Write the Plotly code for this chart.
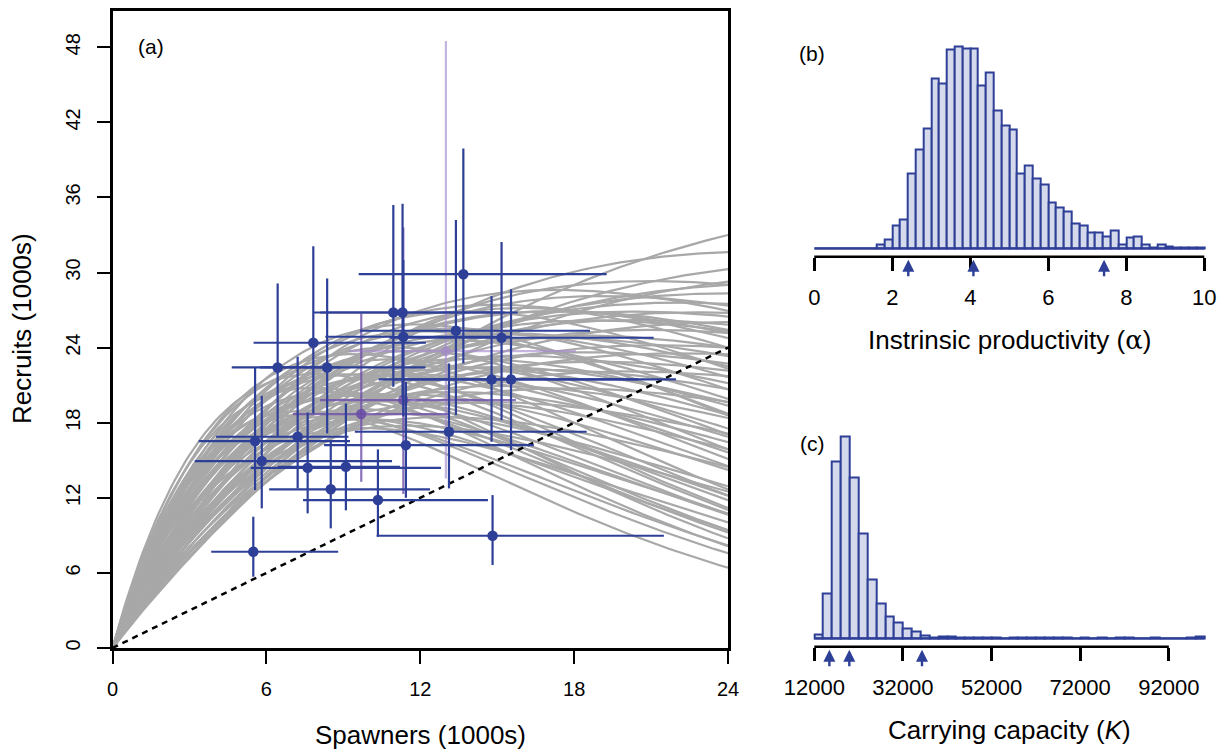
import numpy as np
import plotly.graph_objects as go

W, H = 1225, 753
FONT = "Liberation Sans, Arial, Helvetica, sans-serif"
BLUE = "#2E3F97"
FILL = "#D4D9EC"
GRAY = "#A8A8A8"

# ---- (a) stock-recruit observations (thousands of fish) ----
spawners     = [6.44, 8.37, 5.56, 7.22, 5.82, 7.61, 9.10, 8.51, 10.35, 5.49, 11.44, 13.12,
                7.83, 10.95, 11.31, 11.34, 13.68, 13.39, 15.17, 14.78, 15.54, 14.82]
spawners_lo  = [4.65, 5.75, 3.36, 4.04, 3.21, 5.39, 6.45, 6.11, 7.43, 3.85, 8.25, 9.45,
                5.50, 7.83, 8.10, 8.30, 9.60, 9.65, 10.80, 10.38, 11.00, 10.30]
spawners_hi  = [8.90, 12.20, 9.26, 9.20, 10.90, 12.81, 11.21, 12.38, 14.64, 8.80, 16.43, 18.49,
                12.22, 15.30, 15.80, 15.50, 19.27, 18.62, 21.10, 20.50, 21.97, 21.50]
recruits     = [22.42, 22.42, 16.53, 16.88, 14.94, 14.40, 14.48, 12.68, 11.82, 7.69, 16.21, 17.28,
                24.39, 26.81, 26.81, 24.87, 29.87, 25.35, 24.79, 21.46, 21.46, 8.97]
recruits_lo  = [16.88, 17.15, 12.62, 12.75, 11.16, 10.76, 11.00, 9.56, 8.89, 5.70, 12.00, 12.75,
                18.74, 20.87, 20.00, 18.50, 22.74, 18.61, 18.21, 16.48, 15.81, 6.63]
recruits_hi  = [29.13, 29.53, 22.42, 23.27, 20.15, 18.82, 19.54, 16.61, 15.87, 10.49, 21.27, 22.74,
                32.10, 35.40, 35.50, 31.00, 39.91, 34.19, 32.45, 28.12, 28.67, 12.22]

# years with partially observed recruitment
part_spawners    = [9.70, 11.34]
part_spawners_lo = [7.04, 8.09]
part_spawners_hi = [13.16, 15.73]
part_recruits    = [18.69, 19.81]
part_recruits_lo = [13.28, 12.30]
part_recruits_hi = [26.73, 33.60]

weak_spawners    = [13.00]
weak_spawners_lo = [9.23]
weak_spawners_hi = [18.07]
weak_recruits    = [23.72]
weak_recruits_lo = [13.55]
weak_recruits_hi = [48.50]

# posterior draws of Ricker parameters used for the grey curves
curve_alpha = [2.6, 2.8, 3.0, 3.2, 3.4, 3.6, 3.3, 3.8, 4.2, 4.6, 5.0, 3.5, 4.0, 4.5, 5.5, 6.0,
               3.8, 4.2, 4.8, 5.2, 6.5, 7.0, 6.0, 5.5, 5.0, 4.5, 7.5, 6.8, 5.8, 3.6, 3.1, 2.9,
               4.0, 4.4, 5.2, 3.2, 3.9, 6.2, 4.8, 5.6, 3.4, 2.7, 3.8, 4.6, 5.4, 6.6, 7.2, 6.4,
               4.9, 4.2, 3.7, 4.3, 3.5, 4.1, 3.3, 5.0, 4.7, 3.9, 5.3, 4.0, 3.6, 5.9, 5.1, 3.0,
               2.9, 4.5, 3.2, 6.0, 4.4, 5.7, 6.3, 5.4, 6.9]
curve_K = [36000, 31000, 29000, 28000, 27000, 26000, 25000, 25000, 25000, 24500, 24000, 23000,
           22000, 21000, 20000, 21000, 20000, 19000, 18000, 17000, 16000, 14300, 15000, 15500,
           16000, 17000, 16000, 18000, 19000, 21500, 24000, 26000, 26500, 23000, 22000, 20500,
           17500, 17500, 20000, 17000, 31000, 30000, 28000, 19500, 18500, 17000, 15500, 14800,
           15500, 16500, 24000, 24800, 25500, 21000, 22500, 21500, 22500, 23500, 23000, 18500,
           19000, 16500, 19000, 22000, 23500, 26000, 26500, 19500, 20500, 21000, 15800, 16200,
           17200]

S_grid = np.linspace(0, 24, 161)

# ---- (b) intrinsic productivity histogram ----
alpha_edges = np.round(np.arange(0, 10.0001, 0.2), 2)
alpha_counts = [0, 0, 0, 0, 0, 0, 0, 0,
                10, 25, 68, 85, 223, 295, 358, 509, 495, 597, 605, 600, 600, 487, 527, 413,
                367, 355, 225, 248, 210, 190, 138, 123, 110, 75, 68, 48, 48, 35, 53, 12,
                32, 35, 12, 3, 10, 5, 3, 2, 2, 3]
alpha_quantiles = [2.41, 4.08, 7.43]
alpha_ticks = [0, 2, 4, 6, 8, 10]

# ---- (c) carrying capacity histogram ----
K_edges = np.arange(12000, 100001, 2000)
K_counts = [10, 135, 530, 605, 483, 313, 175, 105, 65, 47, 30, 20, 8, 3, 4, 5, 3, 2, 2, 1,
            1, 0, 1, 1, 2, 1, 1, 2, 1, 0, 1, 0, 1, 0, 2, 1, 0, 0, 1, 0, 0, 0, 1, 5]
K_quantiles = [15400, 19900, 36300]
K_ticks = [12000, 32000, 52000, 72000, 92000]


def px_x(p):
    return p / W


def px_y(p):
    return 1 - p / H


fig = go.Figure()

# grey posterior Ricker curves
for a, k in zip(curve_alpha, curve_K):
    kk = k / 1000.0
    rec = a * S_grid * np.exp(-np.log(a) * S_grid / kk)
    fig.add_trace(go.Scatter(x=S_grid, y=rec, mode="lines", xaxis="x", yaxis="y",
                             line=dict(color=GRAY, width=2.2), hoverinfo="skip",
                             showlegend=False))

# replacement line
fig.add_trace(go.Scatter(x=[0, 24], y=[0, 24], mode="lines", xaxis="x", yaxis="y",
                         line=dict(color="black", width=2.5, dash="6px,5px"),
                         showlegend=False, hoverinfo="skip"))


def obs_trace(s, s_lo, s_hi, r, r_lo, r_hi, color, bar_color):
    s, s_lo, s_hi = np.array(s), np.array(s_lo), np.array(s_hi)
    r, r_lo, r_hi = np.array(r), np.array(r_lo), np.array(r_hi)
    return go.Scatter(
        x=s, y=r, mode="markers", xaxis="x", yaxis="y", showlegend=False,
        marker=dict(color=color, size=10.5, line=dict(width=0)),
        error_x=dict(type="data", symmetric=False, array=s_hi - s, arrayminus=s - s_lo,
                     width=0, thickness=2.2, color=bar_color),
        error_y=dict(type="data", symmetric=False, array=r_hi - r, arrayminus=r - r_lo,
                     width=0, thickness=2.2, color=bar_color),
    )


fig.add_trace(obs_trace(weak_spawners, weak_spawners_lo, weak_spawners_hi,
                        weak_recruits, weak_recruits_lo, weak_recruits_hi,
                        "rgba(160,135,200,0.6)", "rgba(165,140,205,0.65)"))
fig.add_trace(obs_trace(part_spawners, part_spawners_lo, part_spawners_hi,
                        part_recruits, part_recruits_lo, part_recruits_hi,
                        "rgba(105,75,165,0.85)", "rgba(110,80,170,0.8)"))
fig.add_trace(obs_trace(spawners, spawners_lo, spawners_hi,
                        recruits, recruits_lo, recruits_hi, BLUE, BLUE))


def hist_traces(edges, counts, xa, ya):
    edges = np.asarray(edges, dtype=float)
    centers = (edges[:-1] + edges[1:]) / 2
    widths = np.diff(edges)
    bars = go.Bar(x=centers, y=counts, width=widths, xaxis=xa, yaxis=ya,
                  marker=dict(color=FILL, line=dict(color=BLUE, width=2)),
                  showlegend=False, hoverinfo="skip")
    base = go.Scatter(x=[edges[0], edges[-1]], y=[0, 0], mode="lines", xaxis=xa, yaxis=ya,
                      line=dict(color=BLUE, width=2.2), showlegend=False, hoverinfo="skip")
    return [base, bars]


for t in hist_traces(alpha_edges, alpha_counts, "x2", "y2"):
    fig.add_trace(t)
for t in hist_traces(K_edges, K_counts, "x3", "y3"):
    fig.add_trace(t)

tick_font = dict(family=FONT, size=20, color="black")
side_tick_font = dict(family=FONT, size=22, color="black")

hist_yrange = [-25.2, 629.2]

common = dict(automargin=False, showgrid=False, zeroline=False, fixedrange=True)

fig.update_layout(
    width=W, height=H, margin=dict(l=0, r=0, t=0, b=0),
    paper_bgcolor="white", plot_bgcolor="white", bargap=0,
    xaxis=dict(domain=[px_x(112.5), px_x(728)], range=[0, 24], tickvals=[0, 6, 12, 18, 24],
               showline=True, mirror=True, linecolor="black", linewidth=2.5,
               ticks="outside", ticklen=13, tickwidth=2.2, tickcolor="black",
               tickfont=tick_font, ticklabelstandoff=8, **common),
    yaxis=dict(domain=[px_y(648), px_y(11)], range=[0, 50.9],
               tickvals=[0, 6, 12, 18, 24, 30, 36, 42, 48], tickangle=-90,
               showline=True, mirror=True, linecolor="black", linewidth=2.5,
               ticks="outside", ticklen=13, tickwidth=2.2, tickcolor="black",
               tickfont=tick_font, ticklabelstandoff=9, **common),
    xaxis2=dict(domain=[px_x(798.7), px_x(1219.9)], range=[-0.4, 10.4], anchor="y2",
                tickvals=alpha_ticks, showline=False, ticks="outside", ticklen=13,
                tickwidth=2.5, tickcolor="black",
                tickfont=side_tick_font, ticklabelstandoff=8, **common),
    yaxis2=dict(domain=[px_y(256.7), px_y(38.6)], range=hist_yrange, anchor="x2",
                visible=False, **common),
    xaxis3=dict(domain=[px_x(798.7), px_x(1219.9)], range=[8480, 103520], anchor="y3",
                tickvals=K_ticks, ticktext=[str(v) for v in K_ticks], showline=False,
                ticks="outside", ticklen=13, tickwidth=2.5, tickcolor="black",
                tickfont=side_tick_font, ticklabelstandoff=8, **common),
    yaxis3=dict(domain=[px_y(646.7), px_y(428.6)], range=hist_yrange, anchor="x3",
                visible=False, **common),
)

# axis lines spanning only the tick range of the histogram panels
fig.add_shape(type="line", xref="x2", yref="y2 domain", x0=alpha_ticks[0], x1=alpha_ticks[-1],
              y0=0, y1=0, line=dict(color="black", width=2.5))
fig.add_shape(type="line", xref="x3", yref="y3 domain", x0=K_ticks[0], x1=K_ticks[-1],
              y0=0, y1=0, line=dict(color="black", width=2.5))

# quantile arrows under the histograms
for q in alpha_quantiles:
    fig.add_annotation(x=q, y=-0.014, xref="x2", yref="y2 domain", ax=0, ay=18,
                       showarrow=True, arrowhead=2, arrowsize=1.0, arrowwidth=2.4,
                       arrowcolor=BLUE, text="")
for q in K_quantiles:
    fig.add_annotation(x=q, y=-0.014, xref="x3", yref="y3 domain", ax=0, ay=18,
                       showarrow=True, arrowhead=2, arrowsize=1.0, arrowwidth=2.4,
                       arrowcolor=BLUE, text="")


def label(text, x, y, size, angle=0):
    fig.add_annotation(text=text, x=px_x(x), y=px_y(y), xref="paper", yref="paper",
                       showarrow=False, xanchor="center", yanchor="middle", textangle=angle,
                       font=dict(family=FONT, size=size, color="black"))


label("(a)", 151, 47, 21)
label("(b)", 812, 53, 21)
label("(c)", 812, 443, 21)
label("Spawners (1000s)", 420, 735, 26)
label("Recruits (1000s)", 22, 329, 26, angle=-90)
label("Instrinsic productivity (<span style='font-family:DejaVu Serif'>α</span>)",
      1009, 340, 26)
label("Carrying capacity (<i>K</i>)", 1009, 730, 26)

fig.write_html("out.html")
